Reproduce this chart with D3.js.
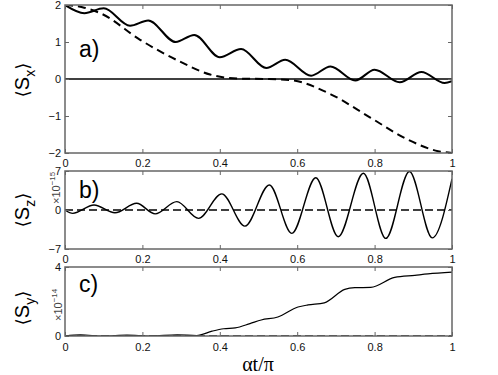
<!DOCTYPE html>
<html>
<head>
<meta charset="utf-8">
<script src="https://cdn.jsdelivr.net/npm/d3@7"></script>
<style>
  body { margin: 0; background: #fff; }
</style>
</head>
<body>
<svg id="chart" width="498" height="375" font-family="Liberation Sans, Arial, sans-serif"></svg>
<script>
// x ticks shared by every panel
const xTicks = [0, 0.2, 0.4, 0.6, 0.8, 1];

// panel a) <Sx>
const sxSolidT = [0, 0.05, 0.10, 0.168, 0.215, 0.286, 0.334, 0.40, 0.455, 0.52, 0.569, 0.636, 0.686, 0.75, 0.80, 0.865, 0.921, 0.981, 1.0];
const sxSolidV = [2.0, 1.78, 1.91, 1.44, 1.58, 1.0, 1.19, 0.59, 0.81, 0.30, 0.52, 0.09, 0.34, -0.04, 0.25, -0.09, 0.19, -0.11, -0.06];
const sxDashT = [0, 0.045, 0.095, 0.194, 0.297, 0.375, 0.45, 0.52, 0.584, 0.688, 0.79, 0.886, 0.964, 1.0];
const sxDashV = [2.0, 1.94, 1.76, 1.06, 0.47, 0.12, 0.01, 0.0, -0.03, -0.42, -1.05, -1.64, -1.95, -2.0];
const sxTicks = [-2, -1, 0, 1, 2];

// panel b) <Sz>, units of 1e-15
const szT = [0, 0.02, 0.075, 0.129, 0.185, 0.233, 0.289, 0.345, 0.405, 0.465, 0.528, 0.586, 0.648, 0.706, 0.771, 0.829, 0.89, 0.949, 1.0];
const szV = [0, -0.6, 0.9, -0.5, 1.2, -0.7, 1.5, -1.5, 2.9, -2.9, 4.5, -4.2, 5.8, -4.8, 6.6, -5.1, 6.9, -5.0, 5.6];
const szTicks = [-7, 0, 7];

// panel c) <Sy>, units of 1e-14
const syT = [0, 0.04, 0.1, 0.16, 0.22, 0.29, 0.34, 0.38, 0.41, 0.44, 0.478, 0.507, 0.55, 0.602, 0.628, 0.67, 0.723, 0.749, 0.79, 0.852, 0.904, 0.938, 1.0];
const syV = [0, 0.06, 0.0, 0.05, 0.0, 0.07, 0.03, 0.28, 0.42, 0.47, 0.72, 0.93, 1.1, 1.68, 1.8, 1.92, 2.7, 2.8, 2.82, 3.4, 3.52, 3.6, 3.7];
const syTicks = [0, 4];

const svg = d3.select('#chart');
const X_LEFT = 65, X_RIGHT = 452;
const COLOR_FRAME = '#666';
const SANS = 'Liberation Sans, Arial, sans-serif';

const x = d3.scaleLinear().domain([0, 1]).range([X_LEFT, X_RIGHT]);

function zip(ts, vs) {
    return ts.map((t, i) => ({ t: t, v: vs[i] }));
}

function panel(id, top, bottom, domain, yTicks, series, opts) {
    const y = d3.scaleLinear().domain(domain).range([bottom, top]);
    const g = svg.append('g');

    g.append('clipPath').attr('id', 'clip-' + id)
        .append('rect')
        .attr('x', X_LEFT).attr('y', top)
        .attr('width', X_RIGHT - X_LEFT).attr('height', bottom - top);

    const line = d3.line()
        .x(d => x(d.t))
        .y(d => y(d.v))
        .curve(d3.curveMonotoneX);

    // zero line in panel a
    if (opts.zeroLine) {
        g.append('line')
            .attr('x1', X_LEFT).attr('x2', X_RIGHT)
            .attr('y1', y(0)).attr('y2', y(0))
            .attr('stroke', '#000').attr('stroke-width', 1.3);
    }

    series.forEach(s => {
        g.append('path')
            .datum(s.data)
            .attr('d', line)
            .attr('fill', 'none')
            .attr('stroke', '#000')
            .attr('stroke-width', s.width)
            .attr('stroke-dasharray', s.dash || null)
            .attr('clip-path', 'url(#clip-' + id + ')');
    });

    // axes, ticks pointing inward like matlab
    const bottomAxis = d3.axisBottom(x).tickValues(xTicks).tickSize(-4).tickPadding(opts.xPad)
        .tickFormat(d => d === 0 || d === 1 ? d3.format('d')(d) : d3.format('.1f')(d));
    const topAxis = d3.axisTop(x).tickValues(xTicks).tickSize(-4).tickFormat('');
    const leftAxis = d3.axisLeft(y).tickValues(yTicks).tickSize(-4).tickPadding(4)
        .tickFormat(d => d < 0 ? '\u2212' + Math.abs(d) : d);
    const rightAxis = d3.axisRight(y).tickValues(yTicks).tickSize(-4).tickFormat('');

    const axes = [
        [bottomAxis, 'translate(0,' + bottom + ')'],
        [topAxis, 'translate(0,' + top + ')'],
        [leftAxis, 'translate(' + X_LEFT + ',0)'],
        [rightAxis, 'translate(' + X_RIGHT + ',0)']
    ];
    axes.forEach(a => {
        const ag = g.append('g').attr('transform', a[1]).call(a[0])
            .attr('font-family', SANS).attr('font-size', 11);
        ag.select('.domain').remove();
        ag.selectAll('.tick line').attr('stroke', COLOR_FRAME).attr('stroke-width', 1);
        ag.selectAll('.tick text').attr('fill', '#111');
    });

    g.append('rect')
        .attr('x', X_LEFT).attr('y', top)
        .attr('width', X_RIGHT - X_LEFT).attr('height', bottom - top)
        .attr('fill', 'none').attr('stroke', COLOR_FRAME).attr('stroke-width', 1.5);

    // panel letter
    g.append('text')
        .attr('x', 79).attr('y', opts.letterY)
        .attr('font-size', 23).attr('fill', '#000')
        .text(opts.letter);

    // y label <S_k>
    const yl = g.append('text')
        .attr('transform', 'translate(29,' + opts.labelY + ') rotate(-90)')
        .attr('text-anchor', 'middle')
        .attr('font-size', 20).attr('fill', '#000');
    yl.append('tspan').attr('font-family', 'DejaVu Sans, sans-serif').attr('font-size', 18).text('\u27E8');
    yl.append('tspan').text('S');
    yl.append('tspan').attr('dy', 6).attr('font-size', 14).text(opts.sub);
    yl.append('tspan').attr('dy', -6).attr('font-family', 'DejaVu Sans, sans-serif').attr('font-size', 18).text('\u27E9');

    // exponent
    if (opts.exp) {
        const ex = g.append('text')
            .attr('transform', 'translate(' + opts.exp.x + ',' + opts.exp.y + ') rotate(-90)')
            .attr('font-size', 11).attr('fill', '#444');
        ex.append('tspan').text('\u00D710');
        ex.append('tspan').attr('dy', -5).attr('font-size', 8).text(opts.exp.text);
    }
    return y;
}

panel('a', 5, 153, [-2, 2], sxTicks, [
    { data: zip(sxSolidT, sxSolidV), width: 2 },
    { data: zip(sxDashT, sxDashV), width: 2, dash: '8,5' }
], { zeroLine: true, xPad: 6, letter: 'a)', letterY: 57, labelY: 80, sub: 'x' });

panel('b', 171, 249, [-7, 7], szTicks, [
    { data: zip(szT, szV), width: 1.4 },
    { data: zip([0, 1], [0, 0]), width: 1.5, dash: '8,4' }
], { xPad: 6.5, letter: 'b)', letterY: 198, labelY: 210, sub: 'z',
     exp: { x: 60, y: 204, text: '\u221215' } });

panel('c', 267, 336, [0, 4], syTicks, [
    { data: zip(syT, syV), width: 1.2 },
    { data: zip([0, 1], [0, 0]), width: 1.5, dash: '8,4' }
], { xPad: 7.5, letter: 'c)', letterY: 292, labelY: 308, sub: 'y',
     exp: { x: 62, y: 321, text: '\u221214' } });

svg.append('text')
    .attr('x', 258).attr('y', 371)
    .attr('text-anchor', 'middle')
    .attr('font-family', 'Liberation Serif, Times New Roman, serif')
    .attr('font-size', 20).attr('fill', '#000')
    .text('\u03B1t/\u03C0');
</script>
</body>
</html>
